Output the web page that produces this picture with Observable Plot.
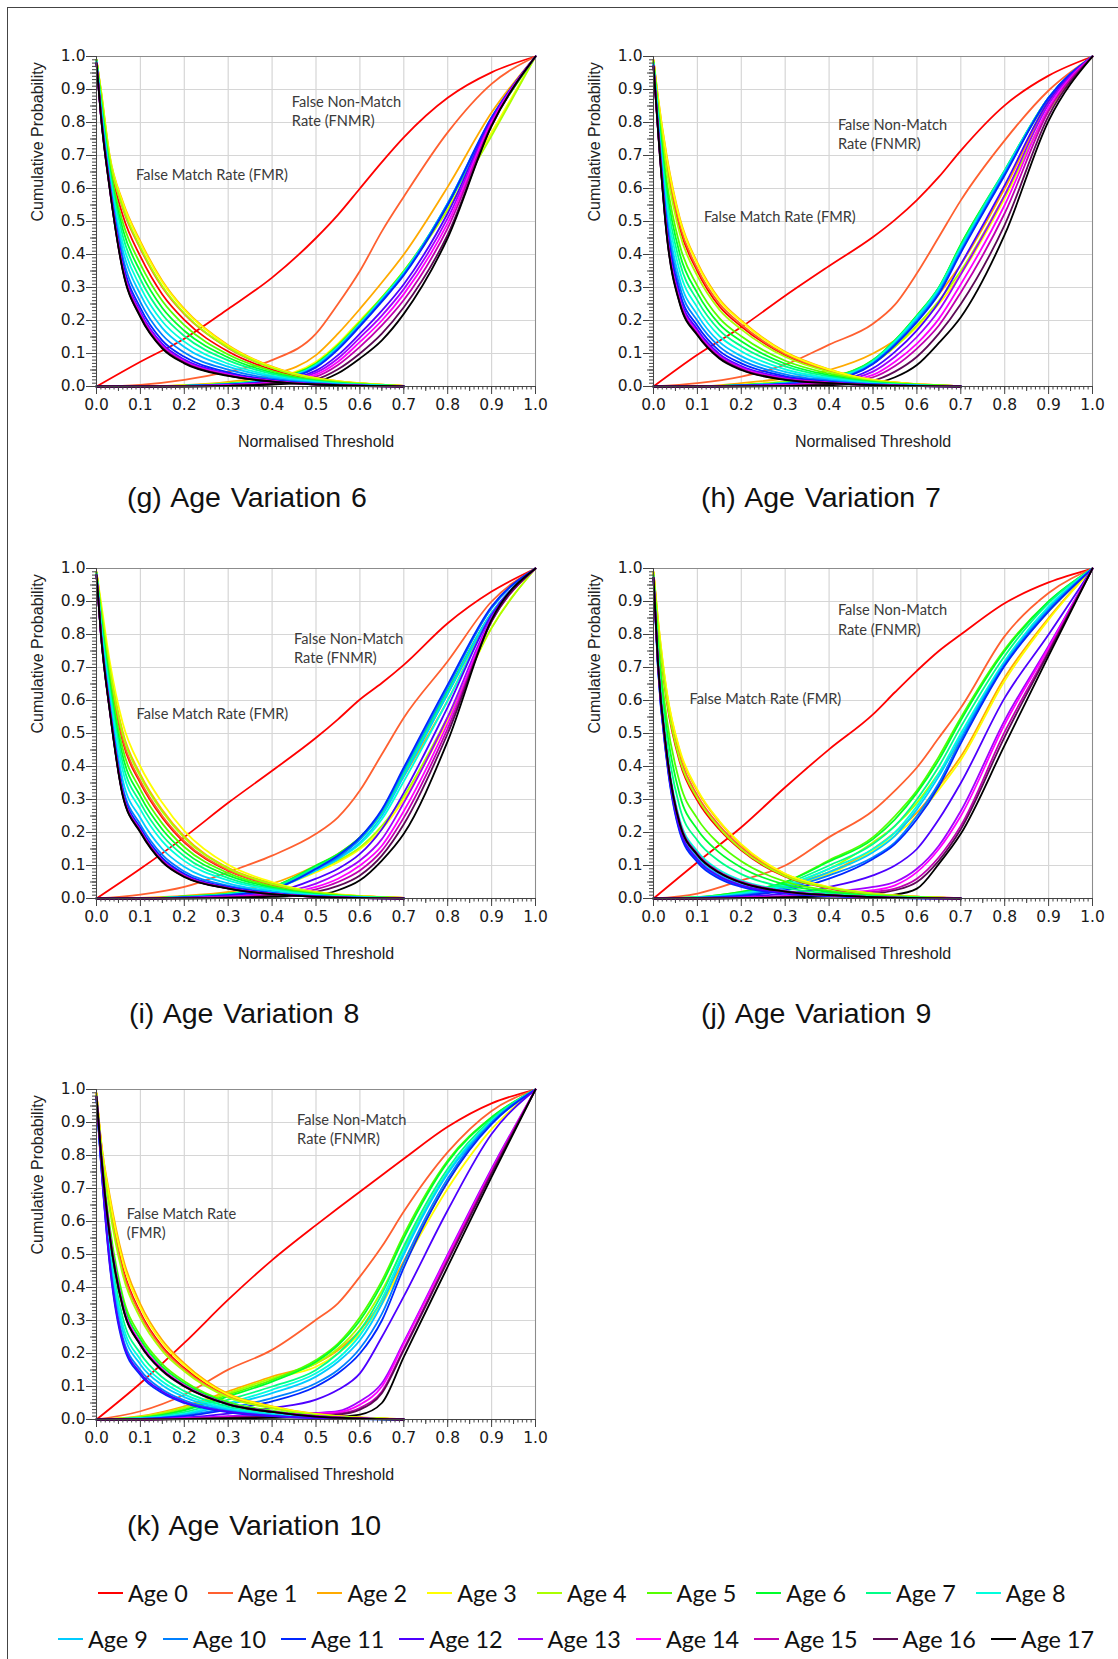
<!DOCTYPE html>
<html><head><meta charset="utf-8">
<script src="https://cdn.jsdelivr.net/npm/d3@7"></script>
<script src="https://cdn.jsdelivr.net/npm/@observablehq/plot@0.6"></script>
<style>
body{margin:0;background:#fff;width:1118px;height:1659px;position:relative;overflow:hidden;font-family:"Liberation Sans",Arial,sans-serif;}
#frame{position:absolute;left:7px;top:7px;width:1200px;height:1700px;border-left:1.5px solid #444;border-top:1.5px solid #444;}
.panel{position:absolute;}
.panel svg{display:block;}
.cap{position:absolute;font-size:28.5px;color:#111;line-height:1;white-space:pre;word-spacing:2px;}
.legrow{position:absolute;display:flex;align-items:center;height:30px;font-family:Lato,sans-serif;font-size:23.4px;color:#111;}
.item{display:flex;align-items:center;}
.sw{width:25px;height:2.5px;margin-right:5px;}
</style></head><body>
<div id="frame"></div>
<div id="root"></div>
<script>
const ages = ["Age 0","Age 1","Age 2","Age 3","Age 4","Age 5","Age 6","Age 7","Age 8","Age 9","Age 10","Age 11","Age 12","Age 13","Age 14","Age 15","Age 16","Age 17"];
const ageColors = ["#ff0000","#ff6030","#ffaa00","#ffff00","#aaff00","#55ff00","#00ff2a","#00ff88","#00ffdd","#00ccff","#0080ff","#0026ff","#4d00ff","#a000ff","#ff00ff","#c000b0","#5c0a55","#000000"];

// Threshold samples (x) for FNMR and FMR curves
const fnmrX = [0, 0.1, 0.2, 0.3, 0.4, 0.5, 0.55, 0.6, 0.65, 0.7, 0.8, 0.9, 1.0];
const fmrX = [0, 0.01, 0.03, 0.06, 0.1, 0.15, 0.2, 0.3, 0.4, 0.5, 0.7];

// (g) Age Variation 6
const fnmr_g = [
[0,.075,.145,.235,.33,.45,.52,.6,.68,.755,.875,.952,1],
[0,.005,.02,.045,.08,.16,.25,.35,.47,.575,.77,.917,1],
[0,0,.004,.014,.035,.095,.16,.235,.315,.4,.605,.83,1],
[0,0,.003,.01,.025,.075,.13,.2,.27,.35,.54,.77,1],
[0,0,.003,.01,.025,.07,.125,.195,.265,.345,.535,.76,1],
[0,0,.002,.008,.022,.07,.125,.195,.27,.35,.55,.8,1],
[0,0,.002,.008,.022,.068,.122,.19,.265,.345,.55,.8,1],
[0,0,.002,.008,.02,.066,.12,.19,.265,.345,.55,.805,1],
[0,0,.002,.007,.02,.065,.12,.19,.265,.345,.555,.81,1],
[0,0,.002,.007,.02,.063,.118,.188,.262,.342,.555,.81,1],
[0,0,.002,.006,.018,.06,.115,.185,.26,.34,.555,.815,1],
[0,0,.002,.006,.017,.058,.112,.182,.257,.337,.55,.815,1],
[0,0,.001,.005,.015,.048,.095,.16,.23,.31,.525,.81,1],
[0,0,.001,.004,.013,.042,.085,.148,.215,.295,.51,.805,1],
[0,0,.001,.004,.012,.036,.075,.135,.2,.28,.495,.8,1],
[0,0,.001,.003,.01,.03,.065,.12,.185,.262,.48,.795,1],
[0,0,0,.002,.008,.022,.052,.1,.16,.24,.46,.79,1],
[0,0,0,.002,.006,.015,.04,.085,.14,.22,.45,.79,1]];
const fmr_g = [
[.99,.884,.68,.518,.394,.279,.202,.106,.051,.021,.002],
[.99,.892,.69,.539,.417,.3,.219,.116,.056,.023,.002],
[.99,.9,.7,.56,.44,.32,.235,.125,.06,.025,.002],
[.99,.898,.698,.556,.435,.316,.232,.123,.059,.025,.002],
[.99,.894,.692,.543,.422,.304,.222,.118,.056,.023,.002],
[.99,.876,.67,.497,.371,.259,.186,.097,.047,.019,.001],
[.99,.868,.66,.476,.348,.238,.169,.088,.042,.017,.001],
[.985,.86,.65,.455,.325,.218,.153,.079,.038,.016,.001],
[.985,.852,.64,.434,.302,.197,.136,.069,.033,.014,.001],
[.985,.844,.63,.413,.279,.177,.12,.06,.029,.012,.001],
[.98,.836,.62,.392,.256,.156,.103,.051,.024,.01,0],
[.98,.83,.612,.375,.238,.139,.09,.043,.02,.008,0],
[.98,.826,.607,.365,.226,.129,.082,.039,.018,.007,0],
[.98,.824,.605,.36,.222,.125,.078,.037,.017,.007,0],
[.98,.822,.603,.356,.217,.121,.075,.035,.016,.006,0],
[.98,.822,.602,.354,.215,.119,.073,.034,.016,.006,0],
[.98,.821,.601,.352,.212,.117,.072,.033,.015,.006,0],
[.98,.82,.6,.35,.21,.115,.07,.032,.015,.006,0]];

// (h) Age Variation 7
const fnmr_h = [
[0,.096,.18,.275,.365,.453,.505,.565,.635,.715,.852,.942,1],
[0,.01,.03,.066,.127,.19,.248,.343,.453,.564,.746,.897,1],
[0,0,.01,.025,.05,.1,.14,.2,.28,.37,.6,.86,1],
[0,0,.005,.015,.03,.07,.12,.18,.25,.34,.57,.84,1],
[0,0,.005,.015,.03,.07,.12,.185,.26,.35,.58,.835,1],
[0,0,.004,.012,.028,.08,.14,.215,.3,.43,.65,.87,1],
[0,0,.004,.012,.027,.08,.14,.215,.3,.43,.655,.875,1],
[0,0,.004,.011,.026,.078,.138,.212,.3,.425,.655,.875,1],
[0,0,.003,.01,.024,.075,.135,.21,.295,.42,.65,.875,1],
[0,0,.003,.01,.022,.072,.13,.205,.29,.415,.65,.875,1],
[0,0,.003,.009,.02,.07,.128,.2,.285,.41,.645,.875,1],
[0,0,.003,.008,.018,.068,.125,.195,.28,.405,.64,.875,1],
[0,0,.002,.006,.015,.055,.105,.17,.255,.37,.61,.865,1],
[0,0,.002,.005,.012,.045,.09,.15,.23,.34,.58,.855,1],
[0,0,.001,.004,.01,.035,.075,.13,.205,.31,.55,.845,1],
[0,0,.001,.003,.008,.028,.062,.115,.185,.285,.525,.835,1],
[0,0,.001,.002,.006,.018,.045,.09,.16,.25,.49,.82,1],
[0,0,0,.001,.004,.01,.028,.065,.132,.21,.46,.805,1]];
const fmr_h = [
[.988,.868,.671,.479,.349,.243,.182,.095,.047,.018,.001],
[.988,.872,.681,.489,.357,.251,.188,.098,.049,.019,.001],
[.99,.88,.7,.51,.375,.265,.2,.105,.052,.02,.001],
[.99,.878,.695,.505,.371,.261,.197,.103,.051,.02,.001],
[.986,.862,.657,.463,.335,.233,.173,.09,.044,.017,.001],
[.984,.848,.623,.427,.305,.207,.152,.078,.039,.015,.001],
[.982,.838,.599,.401,.283,.189,.137,.069,.034,.013,.001],
[.98,.828,.575,.375,.261,.171,.122,.061,.03,.012,0],
[.978,.818,.551,.349,.239,.153,.107,.052,.026,.01,0],
[.976,.808,.527,.323,.217,.135,.092,.044,.022,.008,0],
[.974,.8,.508,.302,.199,.121,.08,.037,.018,.007,0],
[.973,.793,.491,.284,.184,.108,.07,.031,.015,.006,0],
[.972,.788,.479,.271,.173,.099,.062,.027,.013,.005,0],
[.971,.785,.472,.263,.166,.094,.058,.024,.012,.005,0],
[.971,.783,.467,.258,.162,.09,.055,.023,.011,.004,0],
[.97,.782,.465,.255,.159,.089,.053,.022,.011,.004,0],
[.97,.781,.462,.253,.157,.087,.052,.021,.01,.004,0],
[.97,.78,.46,.25,.155,.085,.05,.02,.01,.004,0]];

// (i) Age Variation 8
const fnmr_i = [
[0,.09,.186,.29,.387,.487,.543,.603,.653,.708,.834,.93,1],
[0,.012,.035,.08,.13,.196,.246,.327,.437,.548,.719,.9,1],
[0,.002,.008,.02,.045,.1,.135,.185,.26,.37,.6,.86,1],
[0,0,.005,.012,.03,.08,.11,.15,.21,.3,.54,.82,1],
[0,0,.005,.013,.032,.085,.115,.155,.22,.31,.55,.82,1],
[0,0,.006,.015,.035,.095,.13,.18,.26,.375,.62,.86,1],
[0,0,.006,.015,.035,.1,.135,.185,.265,.385,.63,.865,1],
[0,0,.005,.014,.033,.095,.13,.18,.26,.38,.625,.865,1],
[0,0,.004,.012,.03,.085,.12,.165,.24,.355,.6,.855,1],
[0,0,.004,.011,.028,.085,.12,.17,.25,.37,.62,.865,1],
[0,0,.004,.011,.028,.09,.125,.18,.265,.39,.64,.88,1],
[0,0,.003,.01,.027,.09,.13,.185,.27,.397,.648,.885,1],
[0,0,.002,.007,.018,.06,.09,.135,.21,.32,.58,.86,1],
[0,0,.002,.006,.015,.045,.075,.115,.18,.29,.55,.85,1],
[0,0,.001,.005,.012,.035,.06,.1,.16,.265,.53,.845,1],
[0,0,.001,.004,.01,.028,.05,.085,.145,.245,.515,.84,1],
[0,0,.001,.003,.008,.02,.038,.07,.13,.225,.5,.84,1],
[0,0,0,.002,.005,.01,.025,.055,.115,.196,.477,.845,1]];
const fmr_i = [
[.988,.875,.683,.475,.35,.245,.17,.084,.041,.016,.002],
[.988,.878,.687,.482,.356,.25,.174,.086,.042,.017,.002],
[.989,.888,.702,.504,.376,.268,.188,.093,.046,.018,.002],
[.99,.9,.72,.53,.4,.29,.205,.102,.05,.02,.002],
[.989,.885,.698,.497,.37,.263,.184,.091,.044,.018,.002],
[.987,.865,.668,.453,.33,.227,.156,.077,.037,.015,.001],
[.986,.855,.653,.431,.31,.209,.142,.07,.033,.013,.001],
[.985,.845,.638,.409,.29,.191,.128,.062,.03,.012,.001],
[.984,.835,.623,.387,.27,.173,.114,.055,.026,.01,.001],
[.982,.822,.603,.358,.244,.15,.096,.046,.021,.008,0],
[.981,.812,.588,.336,.224,.132,.082,.039,.017,.007,0],
[.981,.807,.581,.325,.214,.123,.075,.035,.016,.006,0],
[.98,.804,.576,.319,.208,.117,.071,.033,.014,.006,0],
[.98,.803,.575,.317,.206,.115,.069,.032,.014,.005,0],
[.98,.802,.573,.314,.204,.114,.068,.031,.014,.005,0],
[.98,.802,.573,.314,.204,.114,.068,.031,.014,.005,0],
[.98,.801,.572,.312,.202,.112,.066,.031,.013,.005,0],
[.98,.8,.57,.31,.2,.11,.065,.03,.013,.005,0]];

// (j) Age Variation 9
const fnmr_j = [
[0,.11,.216,.337,.452,.558,.625,.69,.75,.8,.895,.958,1],
[0,.015,.055,.1,.186,.266,.327,.397,.487,.578,.795,.926,1],
[0,.003,.015,.04,.08,.15,.2,.26,.34,.43,.67,.85,1],
[0,.002,.012,.035,.075,.145,.19,.25,.33,.42,.66,.845,1],
[0,.003,.015,.04,.09,.17,.22,.29,.38,.48,.71,.87,1],
[0,.004,.02,.05,.116,.186,.25,.327,.43,.548,.755,.9,1],
[0,.004,.02,.05,.112,.18,.24,.32,.42,.54,.75,.9,1],
[0,.003,.017,.045,.1,.165,.22,.3,.4,.52,.735,.895,1],
[0,.003,.015,.04,.09,.15,.2,.28,.38,.5,.72,.885,1],
[0,.002,.012,.035,.08,.14,.19,.27,.37,.49,.715,.88,1],
[0,.002,.01,.03,.07,.125,.17,.25,.35,.48,.71,.875,1],
[0,.002,.008,.025,.06,.12,.165,.24,.34,.47,.705,.87,1],
[0,.001,.005,.015,.035,.07,.1,.15,.24,.35,.608,.8,1],
[0,0,.003,.008,.02,.035,.05,.09,.16,.265,.54,.765,1],
[0,0,.002,.006,.015,.025,.04,.08,.15,.25,.528,.76,1],
[0,0,.002,.005,.012,.02,.03,.06,.125,.22,.505,.75,1],
[0,0,.001,.004,.01,.015,.025,.05,.115,.21,.49,.745,1],
[0,0,.001,.003,.006,.008,.012,.03,.105,.196,.465,.735,1]];
const fmr_j = [
[.987,.828,.599,.413,.297,.209,.146,.066,.031,.013,.001],
[.988,.838,.613,.43,.312,.221,.155,.07,.033,.014,.001],
[.99,.847,.626,.445,.326,.232,.162,.074,.034,.015,.001],
[.99,.85,.63,.45,.33,.235,.165,.075,.035,.015,.001],
[.988,.832,.605,.42,.304,.214,.149,.068,.032,.014,.001],
[.982,.79,.546,.35,.242,.165,.113,.051,.024,.01,.001],
[.979,.768,.515,.313,.209,.139,.094,.042,.02,.008,0],
[.976,.745,.483,.275,.176,.113,.074,.033,.015,.007,0],
[.973,.723,.452,.238,.143,.086,.055,.024,.011,.005,0],
[.971,.71,.435,.218,.125,.072,.044,.019,.009,.004,0],
[.97,.703,.424,.205,.114,.063,.038,.016,.008,.003,0],
[.97,.7,.42,.2,.11,.06,.035,.015,.007,.003,0],
[.971,.706,.428,.21,.119,.067,.04,.017,.008,.003,0],
[.972,.716,.443,.228,.134,.079,.049,.022,.01,.004,0],
[.972,.715,.441,.225,.132,.078,.048,.021,.01,.004,0],
[.972,.718,.445,.23,.136,.081,.051,.022,.01,.004,0],
[.972,.715,.441,.225,.132,.078,.048,.021,.01,.004,0],
[.972,.715,.441,.225,.132,.078,.048,.021,.01,.004,0]];

// (k) Age Variation 10
const fnmr_k = [
[0,.11,.232,.363,.483,.589,.64,.69,.74,.79,.887,.958,1],
[0,.025,.075,.151,.211,.302,.352,.433,.524,.63,.81,.935,1],
[0,.01,.04,.085,.13,.17,.21,.27,.36,.48,.72,.9,1],
[0,.008,.035,.08,.125,.16,.2,.26,.35,.47,.7,.88,1],
[0,.008,.035,.08,.125,.17,.215,.285,.39,.52,.75,.9,1],
[0,.006,.03,.075,.12,.18,.23,.31,.42,.56,.785,.916,1],
[0,.005,.028,.07,.115,.175,.225,.3,.41,.55,.78,.915,1],
[0,.004,.022,.06,.1,.15,.2,.27,.38,.525,.76,.91,1],
[0,.003,.018,.05,.09,.14,.185,.255,.365,.51,.75,.905,1],
[0,.003,.015,.045,.08,.13,.175,.24,.35,.5,.745,.9,1],
[0,.002,.012,.035,.065,.11,.15,.215,.32,.475,.73,.9,1],
[0,.002,.01,.03,.055,.1,.14,.2,.3,.46,.72,.895,1],
[0,.001,.006,.018,.035,.06,.09,.14,.25,.373,.634,.865,1],
[0,0,.004,.01,.015,.02,.025,.055,.11,.235,.5,.76,1],
[0,0,.003,.008,.012,.018,.022,.045,.1,.23,.495,.755,1],
[0,0,.002,.006,.01,.015,.018,.035,.085,.215,.485,.75,1],
[0,0,.002,.005,.008,.012,.015,.03,.08,.21,.48,.745,1],
[0,0,.001,.003,.005,.007,.009,.015,.05,.19,.463,.735,1]];
const fmr_k = [
[.988,.842,.655,.459,.324,.221,.156,.071,.036,.015,.001],
[.987,.84,.649,.451,.318,.216,.152,.07,.036,.015,.001],
[.99,.85,.68,.49,.35,.24,.17,.078,.04,.017,.001],
[.989,.847,.67,.477,.339,.232,.164,.075,.039,.016,.001],
[.986,.836,.638,.438,.307,.208,.146,.067,.034,.014,.001],
[.981,.819,.586,.373,.253,.168,.116,.053,.027,.011,.001],
[.98,.815,.575,.36,.243,.16,.11,.05,.025,.011,0],
[.976,.801,.533,.308,.2,.128,.086,.039,.019,.008,0],
[.974,.795,.516,.287,.182,.115,.076,.034,.017,.007,0],
[.973,.79,.501,.269,.167,.104,.068,.03,.015,.006,0],
[.971,.785,.485,.248,.15,.091,.058,.026,.012,.005,0],
[.97,.78,.47,.23,.135,.08,.05,.022,.01,.004,0],
[.971,.782,.476,.238,.141,.085,.053,.024,.011,.004,0],
[.979,.812,.565,.347,.232,.152,.104,.047,.024,.01,0],
[.979,.812,.565,.347,.232,.152,.104,.047,.024,.01,0],
[.979,.81,.56,.342,.227,.149,.102,.046,.023,.01,0],
[.978,.809,.558,.339,.225,.147,.1,.046,.023,.009,0],
[.978,.809,.558,.34,.226,.148,.101,.046,.023,.009,0]];

const captions = ["(g) Age Variation 6","(h) Age Variation 7","(i) Age Variation 8","(j) Age Variation 9","(k) Age Variation 10"];
const fnmrLabel = ["False Non-Match", "Rate (FNMR)"];
const fmrLabel = "False Match Rate (FMR)";

// layout
const panels = [
  {fnmr: fnmr_g, fmr: fmr_g, left: 20, top: 40, capL: 127, capT: 483,
   notes: [{x:.445,y:.86,t:fnmrLabel[0]},{x:.445,y:.803,t:fnmrLabel[1]},{x:.09,y:.64,t:fmrLabel}]},
  {fnmr: fnmr_h, fmr: fmr_h, left: 577, top: 40, capL: 701, capT: 483,
   notes: [{x:.42,y:.79,t:fnmrLabel[0]},{x:.42,y:.735,t:fnmrLabel[1]},{x:.115,y:.513,t:fmrLabel}]},
  {fnmr: fnmr_i, fmr: fmr_i, left: 20, top: 552, capL: 129, capT: 999,
   notes: [{x:.45,y:.784,t:fnmrLabel[0]},{x:.45,y:.727,t:fnmrLabel[1]},{x:.091,y:.558,t:fmrLabel}]},
  {fnmr: fnmr_j, fmr: fmr_j, left: 577, top: 552, capL: 701, capT: 999,
   notes: [{x:.42,y:.874,t:fnmrLabel[0]},{x:.42,y:.814,t:fnmrLabel[1]},{x:.082,y:.605,t:fmrLabel}]},
  {fnmr: fnmr_k, fmr: fmr_k, left: 20, top: 1073, capL: 127, capT: 1511,
   notes: [{x:.457,y:.908,t:fnmrLabel[0]},{x:.457,y:.848,t:fnmrLabel[1]},{x:.069,y:.621,t:"False Match Rate"},{x:.069,y:.564,t:"(FMR)"}]}
];

const major = d3.range(0, 1.0001, 0.1).map(v => +v.toFixed(2));
const half = d3.range(0.05, 1, 0.1).map(v => +v.toFixed(2));
const minor = d3.range(0, 1.0001, 0.01).map(v => +v.toFixed(2));

function rows(xs, arrs, kind) {
  const out = [];
  arrs.forEach((ys, a) => ys.forEach((y, i) => out.push({age: ages[a], x: xs[i], y, key: kind + a})));
  return out;
}

const tickFont = {fontFamily: "DejaVu Sans", fontSize: 15.5};
const root = document.getElementById("root");
panels.forEach((p, idx) => {
  const data = rows(fnmrX, p.fnmr, "n").concat(rows(fmrX, p.fmr, "m"));
  const chart = Plot.plot({
    width: 540, height: 440,
    marginLeft: 76, marginRight: 25, marginTop: 16, marginBottom: 94,
    x: {domain: [0, 1], label: null},
    y: {domain: [0, 1], label: null},
    color: {type: "ordinal", domain: ages, range: ageColors},
    style: {fontFamily: "DejaVu Sans", fontSize: "15.5px", color: "#222", background: "white"},
    marks: [
      Plot.gridX(major, {stroke: "#d6d6d6", strokeOpacity: 1, strokeWidth: 1.2}),
      Plot.gridY(major, {stroke: "#d6d6d6", strokeOpacity: 1, strokeWidth: 1.2}),
      Plot.frame({stroke: "#8c8c8c"}),
      Plot.line(data, {x: "x", y: "y", z: "key", stroke: "age", strokeWidth: 1.8, curve: "monotone-x"}),
      Plot.ruleX([0], {stroke: "#444"}),
      Plot.ruleY([0], {stroke: "#444"}),
      Plot.axisX(minor, {tickSize: 3.5, tickFormat: () => "", label: null, stroke: "#444"}),
      Plot.axisX(half, {tickSize: 5, tickFormat: () => "", label: null, stroke: "#444"}),
      Plot.axisX(major, {tickSize: 8, tickPadding: 4, tickFormat: d3.format(".1f"), label: null, stroke: "#444", fill: "#1a1a1a", ...tickFont}),
      Plot.axisY(minor, {tickSize: 4, tickFormat: () => "", label: null, stroke: "#444"}),
      Plot.axisY(half, {tickSize: 6, tickFormat: () => "", label: null, stroke: "#444"}),
      Plot.axisY(major, {tickSize: 10, tickPadding: 1, tickFormat: d3.format(".1f"), label: null, stroke: "#444", fill: "#1a1a1a", ...tickFont}),
      Plot.text(["Normalised Threshold"], {frameAnchor: "bottom", dy: 55, lineAnchor: "middle", fontFamily: "Liberation Sans", fontSize: 16, fill: "#222"}),
      Plot.text(["Cumulative Probability"], {frameAnchor: "left", dx: -59, rotate: -90, lineAnchor: "middle", fontFamily: "Liberation Sans", fontSize: 16, fill: "#222"}),
      Plot.text(p.notes, {x: "x", y: "y", text: "t", textAnchor: "start", lineAnchor: "middle", fontFamily: "Lato", fontSize: 14.6, fill: "#3a3a3a"})
    ]
  });
  const div = document.createElement("div");
  div.className = "panel";
  div.style.left = p.left + "px";
  div.style.top = p.top + "px";
  div.appendChild(chart);
  root.appendChild(div);
  const cap = document.createElement("div");
  cap.className = "cap";
  cap.style.left = p.capL + "px";
  cap.style.top = p.capT + "px";
  cap.textContent = captions[idx];
  root.appendChild(cap);
});

// legend
[[0, 9, 98, 1578, 20], [9, 18, 58, 1624, 15]].forEach(([a, b, left, top, gap]) => {
  const row = document.createElement("div");
  row.className = "legrow";
  row.style.left = left + "px";
  row.style.top = top + "px";
  for (let i = a; i < b; i++) {
    const it = document.createElement("div");
    it.className = "item";
    if (i < b - 1) it.style.marginRight = gap + "px";
    const sw = document.createElement("div");
    sw.className = "sw";
    sw.style.background = ageColors[i];
    const tx = document.createElement("span");
    tx.textContent = ages[i];
    it.appendChild(sw); it.appendChild(tx);
    row.appendChild(it);
  }
  root.appendChild(row);
});
</script>
</body></html>
